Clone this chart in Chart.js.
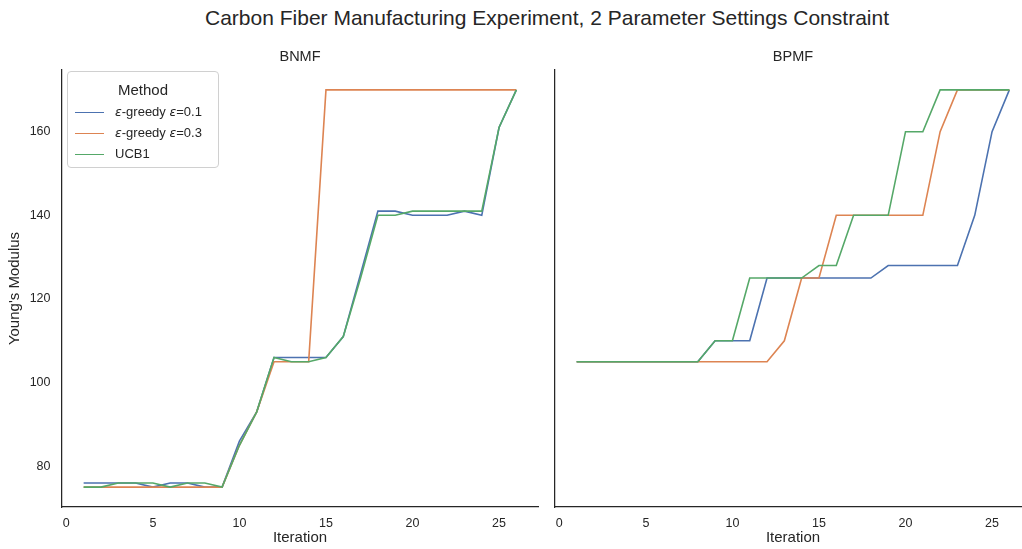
<!DOCTYPE html>
<html>
<head>
<meta charset="utf-8">
<title>Carbon Fiber Manufacturing Experiment</title>
<script src="https://cdn.jsdelivr.net/npm/chart.js@4.4.1/dist/chart.umd.min.js"></script>
<style>
  html, body { margin: 0; padding: 0; background: #ffffff; overflow: hidden; }
  #wrap { position: relative; width: 1022px; height: 549px; overflow: hidden;
          font-family: "Liberation Sans", Arial, sans-serif; color: #262626; }
  #suptitle { position: absolute; left: 47px; top: 6px; width: 1000px; text-align: center;
              font-size: 21px; line-height: 24px; white-space: nowrap; }
  canvas { position: absolute; top: 0; }
  #left { left: 0; }
  #right { left: 545px; }
  #legend { position: absolute; left: 67px; top: 71px; width: 150px; height: 95px;
            border: 1px solid #d0d0d0; border-radius: 4px; background: rgba(255,255,255,0.8); }
  #legend .ttl { position: absolute; left: 0; width: 100%; top: 9px; text-align: center;
                 font-size: 15px; line-height: 18px; }
  #legend .row { position: absolute; left: 0; height: 16px; font-size: 13px; line-height: 16px; white-space: nowrap; }
  #legend .hnd { position: absolute; left: 7px; top: 8px; width: 29px; height: 0; border-top: 1.6px solid; }
  #legend .lbl { position: absolute; left: 47px; top: 0; }
  #legend i { font-family: "DejaVu Sans", sans-serif; font-style: italic; font-size: 12.5px; }
</style>
</head>
<body>
<div id="wrap">
  <div id="suptitle">Carbon Fiber Manufacturing Experiment, 2 Parameter Settings Constraint</div>
  <canvas id="left" width="545" height="549"></canvas>
  <canvas id="right" width="486" height="549"></canvas>
  <div id="legend"></div>
</div>
<script>
// Iteration index shared by every run
const ITERATIONS = [1,2,3,4,5,6,7,8,9,10,11,12,13,14,15,16,17,18,19,20,21,22,23,24,25,26];

// Best Young's modulus found so far, BNMF model
const BNMF_EPS01 = [76,76,76,76,75,76,76,75,75,86,93,106,106,106,106,111,126,141,141,140,140,140,141,140,161,170];
const BNMF_EPS03 = [75,75,75,75,75,75,75,75,75,85,93,105,105,105,170,170,170,170,170,170,170,170,170,170,170,170];
const BNMF_UCB1  = [75,75,76,76,76,75,76,76,75,85,93,106,105,105,106,111,125,140,140,141,141,141,141,141,161,170];

// Best Young's modulus found so far, BPMF model
const BPMF_EPS01 = [105,105,105,105,105,105,105,105,110,110,110,125,125,125,125,125,125,125,128,128,128,128,128,140,160,170];
const BPMF_EPS03 = [105,105,105,105,105,105,105,105,105,105,105,105,110,125,125,140,140,140,140,140,140,160,170,170,170,170];
const BPMF_UCB1  = [105,105,105,105,105,105,105,105,110,110,125,125,125,125,128,128,140,140,140,160,160,170,170,170,170,170];

const SERIES_NAMES = ['ε-greedy ε=0.1', 'ε-greedy ε=0.3', 'UCB1'];
const SERIES_COLORS = ['#4c72b0', '#dd8452', '#55a868'];
const PANEL_TITLES = ['BNMF', 'BPMF'];
const LEGEND_TITLE = 'Method';
const X_TITLE = 'Iteration';
const Y_TITLE = "Young's Modulus";
const X_TICKS = [0, 5, 10, 15, 20, 25];
const Y_TICKS = [80, 100, 120, 140, 160];

const FONT = '"Liberation Sans", Arial, sans-serif';
const INK = '#262626';

function makeDatasets(seriesList) {
  return seriesList.map((vals, i) => ({
    label: SERIES_NAMES[i],
    data: ITERATIONS.map((it, k) => ({ x: it, y: vals[k] })),
    borderColor: SERIES_COLORS[i],
    backgroundColor: SERIES_COLORS[i],
    borderWidth: 1.6,
    pointRadius: 0,
    tension: 0,
    fill: false,
    order: seriesList.length - i   // later series drawn on top
  }));
}

function panelConfig(title, seriesList, showYLabels, yAxisWidth, padRight) {
  return {
    type: 'line',
    data: { datasets: makeDatasets(seriesList) },
    options: {
      responsive: false,
      animation: false,
      devicePixelRatio: 1,
      layout: { padding: { left: 0, right: padRight, top: 0, bottom: 0 } },
      plugins: {
        legend: { display: false },
        tooltip: { enabled: false },
        title: {
          display: true, text: title, fullSize: false, color: INK,
          font: { family: FONT, size: 14.5, weight: 'normal' },
          padding: { top: 48.6, bottom: 4 }
        }
      },
      scales: {
        x: {
          type: 'linear', min: -0.25, max: 27.25,
          afterBuildTicks: s => { s.ticks = X_TICKS.map(v => ({ value: v })); },
          afterFit: s => { s.height = 42; },
          grid: { display: false, drawTicks: false },
          border: { display: true, color: INK, width: 1.25 },
          ticks: { padding: 9, color: INK, font: { family: FONT, size: 12.5 }, maxRotation: 0, autoSkip: false },
          title: { display: true, text: X_TITLE, color: INK, font: { family: FONT, size: 15 },
                   padding: { top: 0, bottom: 2.5 } }
        },
        y: {
          type: 'linear', min: 70.25, max: 174.75,
          afterBuildTicks: s => { s.ticks = Y_TICKS.map(v => ({ value: v })); },
          afterFit: s => { s.width = yAxisWidth; },
          grid: { display: false, drawTicks: false },
          border: { display: true, color: INK, width: 1.25 },
          ticks: { display: showYLabels, padding: 11.5, color: INK, font: { family: FONT, size: 12.5 } },
          title: { display: showYLabels, text: Y_TITLE, color: INK, font: { family: FONT, size: 15 },
                   padding: { top: 5.5, bottom: 0 } }
        }
      }
    }
  };
}

new Chart(document.getElementById('left'),
  panelConfig(PANEL_TITLES[0], [BNMF_EPS01, BNMF_EPS03, BNMF_UCB1], true, 62, 7));
new Chart(document.getElementById('right'),
  panelConfig(PANEL_TITLES[1], [BPMF_EPS01, BPMF_EPS03, BPMF_UCB1], false, 10, 0));

// Legend box inside the left panel
(function buildLegend() {
  const box = document.getElementById('legend');
  const ttl = document.createElement('div');
  ttl.className = 'ttl';
  ttl.textContent = LEGEND_TITLE;
  box.appendChild(ttl);
  const rowTops = [32, 53, 74];
  SERIES_NAMES.forEach((name, i) => {
    const row = document.createElement('div');
    row.className = 'row';
    row.style.top = rowTops[i] + 'px';
    const h = document.createElement('div');
    h.className = 'hnd';
    h.style.borderTopColor = SERIES_COLORS[i];
    const l = document.createElement('span');
    l.className = 'lbl';
    name.split('ε').forEach((part, k) => {
      if (k > 0) {
        const e = document.createElement('i');
        e.textContent = 'ε';
        l.appendChild(e);
      }
      l.appendChild(document.createTextNode(part));
    });
    row.appendChild(h);
    row.appendChild(l);
    box.appendChild(row);
  });
})();
</script>
</body>
</html>
